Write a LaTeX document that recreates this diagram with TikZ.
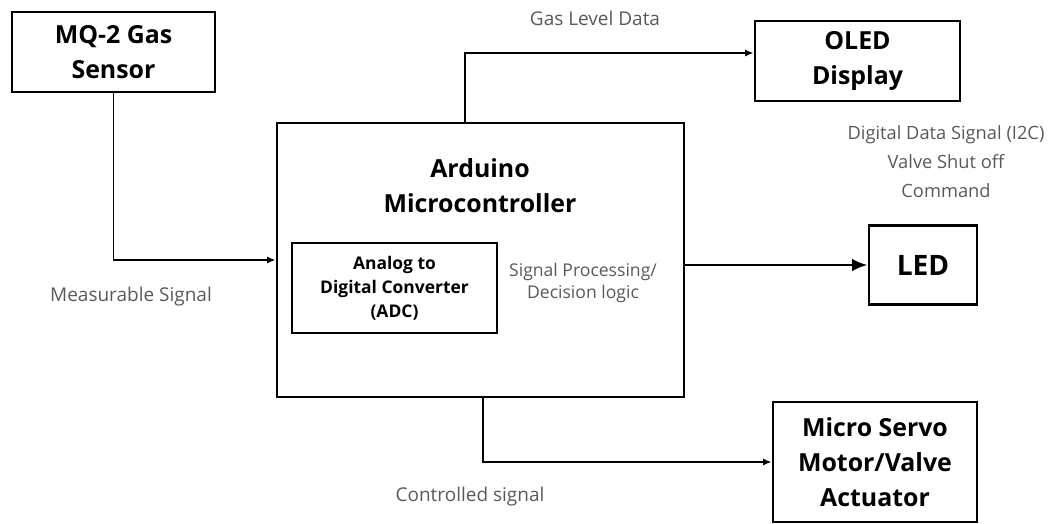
\documentclass[tikz,border=0pt]{standalone}
\usepackage{fontspec}
\setmainfont{Open Sans}
\usetikzlibrary{arrows.meta}

\begin{document}
\begin{tikzpicture}[x=0.025cm,y=-0.025cm,>=Latex,
  block/.style={draw,line width=2pt,align=center,inner sep=0pt,font=\fontsize{17.7}{25}\selectfont\bfseries},
  adcbox/.style={draw,line width=1pt,align=center,inner sep=0pt,font=\fontsize{12.4}{17}\selectfont\bfseries},
  note/.style={text=black!65,align=center,font=\fontsize{13.5}{15.6}\selectfont},
  link/.style={->,line width=1.3pt,>={Latex[length=6pt,width=5pt]}},
  biglink/.style={->,line width=2pt,>={Latex[length=11pt,width=9pt]}}]
  \useasboundingbox (0,0) rectangle (1051,524);
  % blocks
  \node[block,minimum width=5.075cm,minimum height=2cm] (sensor) at (113.5,52) {MQ-2 Gas\\Sensor};
  \node[block,minimum width=5.125cm,minimum height=2cm] (oled) at (857.5,61) {OLED\\Display};
  \node[block,minimum width=10.175cm,minimum height=6.85cm] (arduino) at (480.5,260) {};
  \node[block,draw=none] (ardtitle) at (480,186) {Arduino\\Microcontroller};
  \node[adcbox,minimum width=5.125cm,minimum height=2.25cm] (adc) at (394.5,288) {Analog to\\Digital Converter\\(ADC)};
  \node[block,minimum width=2.7cm,minimum height=1.975cm,font=\fontsize{20}{25}\selectfont\bfseries] (led) at (923,265) {LED};
  \node[block,minimum width=5.1cm,minimum height=3cm] (servo) at (875,462) {Micro Servo\\Motor/Valve\\Actuator};
  % connectors
  \draw[link] (sensor.south) |- (arduino.west);
  \draw[link] ([xshift=-0.39cm]arduino.north) |- ([yshift=0.2cm]oled.west);
  \draw[biglink] (led.west -| arduino.east) -- (led.west);
  \draw[link] ([xshift=0.06cm]arduino.south) |- (servo.west);
  % labels
  \node[note] (gaslbl) at (595,18) {Gas Level Data};
  \node[note,font=\fontsize{13}{20.6}\selectfont] (i2clbl) at (946,162) {Digital Data Signal (I2C)\\Valve Shut off\\Command};
  \node[note,font=\fontsize{12.5}{15.6}\selectfont] (proclbl) at (583,283) {Signal Processing/\\Decision logic};
  \node[note] (measlbl) at (131,297) {Measurable Signal};
  \node[note] (ctrllbl) at (470,497) {Controlled signal};
\end{tikzpicture}
\end{document}
